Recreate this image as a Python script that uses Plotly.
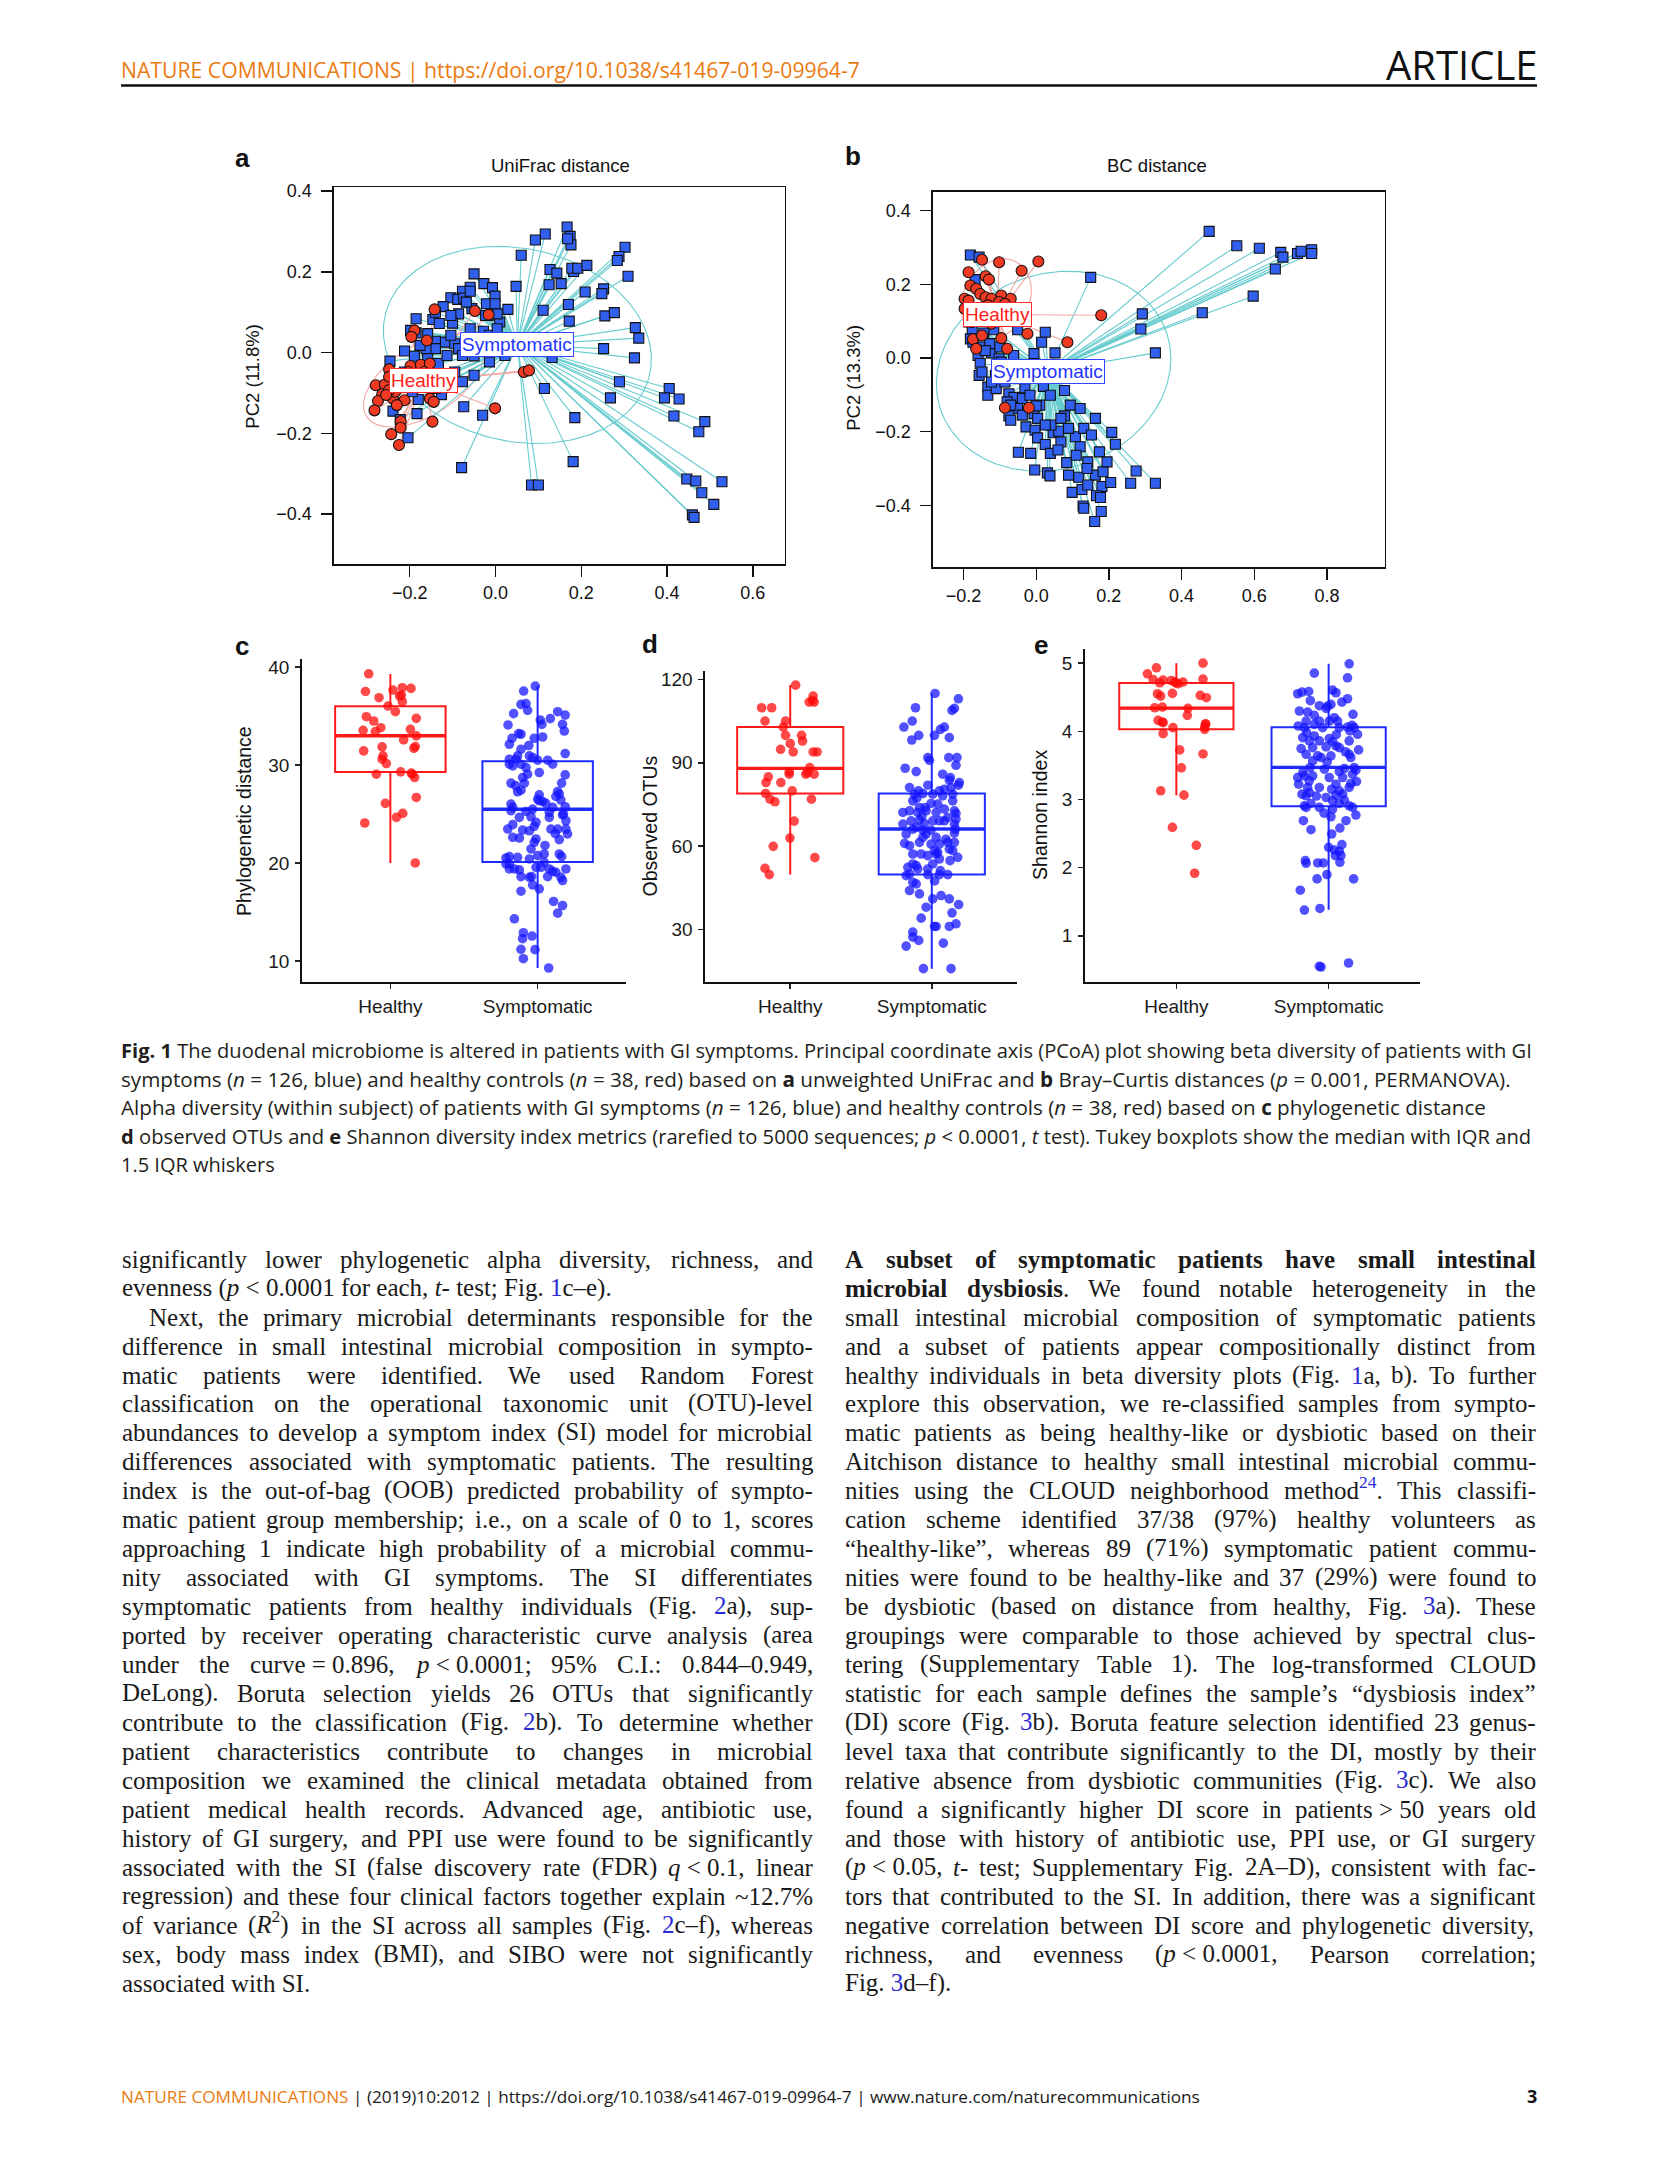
import re
import numpy as np
import plotly.graph_objects as go

W, H = 1654, 2174
Y_SHIFT = -3.0   # small global vertical correction (px)

# ---------------- data: panel a (UniFrac PCoA) ----------------
unifrac_sym_pc1 = [0.167,0.174,0.176,0.168,0.116,0.093,0.060,0.302,0.288,0.284,
    0.127,0.143,0.182,0.178,0.192,0.213,0.309,0.125,0.153,0.048,
    0.209,0.252,0.248,0.170,0.111,0.172,0.255,0.277,0.326,0.334,
    0.252,0.324,0.132,0.289,0.405,0.394,0.428,0.268,0.114,0.416,
    0.488,0.474,0.185,0.181,-0.079,0.084,0.100,0.446,0.467,0.481,
    0.509,0.528,0.459,0.463,-0.074,-0.030,
    -0.050,-0.027,-0.007,-0.059,-0.077,-0.104,-0.088,-0.074,-0.059,-0.001,
    -0.021,-0.001,0.029,0.010,0.004,-0.017,-0.086,-0.122,-0.146,-0.185,
    -0.100,-0.117,-0.140,-0.158,-0.185,-0.198,-0.095,-0.086,-0.140,-0.162,
    -0.212,-0.189,-0.246,-0.133,-0.050,-0.180,-0.126,-0.239,-0.183,-0.222,
    -0.204,-0.028,-0.014,
    -0.104,-0.068,-0.059,-0.113,-0.077,-0.032,-0.158,-0.176,-0.131,-0.050,
    -0.014,0.004,-0.122,-0.095,-0.149,-0.212,-0.194,-0.140,-0.077,-0.050,
    -0.014,0.022,-0.023,-0.055,-0.104,-0.068,-0.140]
unifrac_sym_pc2 = [0.311,0.288,0.267,0.282,0.294,0.279,0.241,0.261,0.238,0.228,
    0.206,0.197,0.201,0.209,0.209,0.216,0.189,0.168,0.171,0.164,
    0.150,0.158,0.146,0.119,0.105,0.078,0.091,0.099,0.062,0.036,
    0.010,-0.013,-0.012,-0.072,-0.089,-0.112,-0.115,-0.112,-0.089,-0.157,
    -0.171,-0.196,-0.161,-0.270,-0.285,-0.328,-0.328,-0.313,-0.318,-0.347,
    -0.376,-0.320,-0.402,-0.408,-0.134,-0.155,
    0.195,0.171,0.161,0.162,0.152,0.136,0.132,0.135,0.152,0.140,
    0.121,0.121,0.107,0.076,0.096,0.092,0.096,0.114,0.082,0.084,
    0.073,0.026,0.028,0.047,0.049,0.055,0.022,0.010,0.010,0.010,
    0.004,-0.009,-0.021,-0.027,-0.008,-0.116,-0.104,-0.145,-0.151,-0.166,
    -0.211,0.053,0.043,
    0.043,0.035,0.059,-0.007,-0.007,0.010,-0.015,0.018,0.072,0.026,
    0.018,0.059,-0.056,-0.048,-0.056,-0.048,-0.097,-0.089,-0.072,-0.056,
    -0.023,-0.007,0.092,0.109,0.092,0.125,0.100]
unifrac_hea_pc1 = [-0.142,-0.048,-0.016,-0.189,-0.196,-0.160,-0.248,-0.198,-0.174,-0.153,
    -0.279,-0.258,-0.264,-0.274,-0.239,-0.212,-0.153,-0.144,-0.282,-0.221,
    -0.221,-0.147,-0.243,-0.225,-0.001,0.066,0.078,-0.234,-0.248,-0.221,
    -0.194,-0.176,-0.248,-0.230,-0.255,-0.203,-0.167,-0.140]
unifrac_hea_pc2 = [0.107,0.103,0.094,0.055,0.039,0.030,-0.041,-0.033,-0.030,-0.027,
    -0.081,-0.079,-0.103,-0.120,-0.114,-0.118,-0.114,-0.122,-0.143,-0.170,
    -0.186,-0.171,-0.202,-0.229,-0.138,-0.048,-0.044,-0.097,-0.060,-0.085,
    -0.064,-0.081,-0.093,-0.130,-0.105,-0.048,-0.048,-0.072]
unifrac_centroid_sym = [0.051, 0.019]
unifrac_centroid_hea = [-0.168, -0.069]
# ellipse: centre x, centre y, semi-axis a, semi-axis b, angle (deg)
unifrac_ell_sym = [0.051, 0.019, 0.317, 0.238, -15]
unifrac_ell_hea = [-0.168, -0.069, 0.160, 0.085, 35]

# ---------------- data: panel b (Bray-Curtis PCoA) ----------------
bc_sym_pc1 = [0.476,0.552,0.614,0.673,0.679,0.719,0.729,0.758,0.758,0.658,
    0.597,0.457,0.292,0.288,0.328,0.150,-0.181,-0.157,-0.168,0.025,
    0.015,0.052,-0.006,-0.062,-0.051,-0.117,-0.144,-0.176,-0.181,-0.160,
    -0.123,-0.154,-0.157,-0.133,-0.133,-0.110,-0.075,-0.061,-0.031,0.020,
    0.039,0.078,-0.051,-0.006,-0.075,-0.070,0.078,-0.028,-0.003,0.004,
    0.047,0.062,0.108,0.121,0.025,0.039,-0.049,-0.015,0.084,-0.004,
    0.031,0.038,0.208,0.218,0.275,0.260,0.328,0.117,0.099,0.126,
    0.181,0.205,0.166,0.177,0.129,0.131,0.179,0.161,-0.038,-0.091,
    -0.102,-0.070,-0.017,0.057,-0.149,-0.128,-0.186,-0.170,-0.112,-0.080,
    -0.038,0.010,0.094,0.004,0.041,0.068,0.131,0.152,
    -0.174,-0.149,-0.123,-0.096,-0.086,-0.054,-0.017,-0.070,-0.038,0.025,
    0.089,0.068,0.110,0.142,0.163,0.142,0.184,0.089,0.174,0.195,
    0.121,0.163,0.015,-0.140,-0.100,0.000,0.060,0.140]
bc_sym_pc2 = [0.344,0.305,0.298,0.287,0.274,0.284,0.290,0.294,0.284,0.242,
    0.168,0.123,0.120,0.079,0.014,0.219,0.280,0.274,0.213,0.070,
    0.043,0.014,0.012,0.007,0.077,0.077,0.068,0.072,0.052,0.007,
    0.014,-0.015,-0.047,-0.079,-0.101,-0.083,-0.097,-0.107,-0.081,-0.077,
    -0.101,-0.088,-0.137,-0.151,-0.157,-0.169,-0.157,-0.187,-0.196,-0.217,
    -0.203,-0.199,-0.214,-0.241,-0.235,-0.259,-0.256,-0.259,-0.284,-0.304,
    -0.312,-0.320,-0.202,-0.234,-0.307,-0.340,-0.340,-0.324,-0.365,-0.357,
    -0.349,-0.338,-0.374,-0.379,-0.402,-0.408,-0.417,-0.444,-0.056,-0.047,
    -0.002,-0.029,-0.038,-0.047,0.030,0.039,0.098,0.116,-0.047,-0.119,
    -0.110,-0.128,-0.128,-0.164,-0.182,-0.164,-0.191,-0.209,
    0.043,-0.038,-0.065,-0.011,-0.065,-0.047,-0.101,-0.128,-0.155,-0.182,
    -0.191,-0.228,-0.264,-0.282,-0.318,-0.345,-0.309,-0.318,-0.255,-0.282,
    -0.137,-0.164,-0.020,0.020,0.030,-0.130,-0.250,-0.300]
bc_hea_pc1 = [-0.149,-0.102,0.006,-0.040,-0.186,-0.139,-0.130,-0.181,-0.165,-0.154,
    -0.139,-0.096,-0.070,-0.197,-0.186,-0.123,-0.102,-0.086,0.179,-0.024,
    0.086,-0.174,-0.165,-0.096,-0.080,-0.086,-0.020,-0.160,-0.133,-0.197,
    -0.176,-0.144,-0.112,-0.080,-0.059,-0.176,-0.123,-0.149]
bc_hea_pc2 = [0.267,0.260,0.262,0.237,0.233,0.222,0.213,0.197,0.188,0.174,
    0.165,0.170,0.161,0.161,0.156,0.161,0.152,0.147,0.116,0.066,
    0.043,0.051,0.025,0.054,0.025,-0.135,-0.135,0.134,0.143,0.134,
    0.125,0.116,0.107,0.116,0.134,0.098,0.093,0.061]
bc_centroid_sym = [0.033, -0.036]
bc_centroid_hea = [-0.106, 0.118]
bc_ell_sym = [0.048, -0.036, 0.328, 0.265, 18]
bc_ell_hea = [-0.110, 0.160, 0.115, 0.090, 60]

# ---------------- data: panels c-e (alpha diversity) ----------------
groups = ["Healthy", "Symptomatic"]

phylo_healthy = [39.32,37.52,36.88,37.66,37.90,37.83,37.15,36.47,36.03,35.45,34.94,34.50,34.77,
    33.55,33.82,33.42,33.65,32.98,32.57,31.45,31.86,31.89,31.72,30.94,30.60,30.16,29.07,29.31,
    29.18,28.73,26.70,26.09,25.07,24.66,24.09,20.01,37.05,29.07]
phylo_healthy_jit = [-0.147,-0.169,-0.077,0.018,0.081,0.140,0.075,0.081,-0.016,0.034,-0.163,-0.113,
    0.176,-0.185,-0.065,-0.102,0.136,0.176,0.090,-0.181,-0.056,0.169,0.160,-0.050,-0.056,-0.027,
    -0.095,0.070,0.142,0.165,0.176,-0.034,0.084,0.041,-0.174,0.169,0.063,0.149]
phylo_sym = [38.07,37.56,36.20,36.27,35.59,35.25,35.45,35.11,34.74,34.60,
    34.16,34.10,34.16,33.48,32.74,33.21,33.15,32.74,32.87,32.13,
    31.62,31.18,30.60,30.94,30.94,30.50,30.50,29.92,30.09,29.75,
    30.60,29.07,29.00,28.16,28.16,27.44,27.28,28.16,27.31,26.80,
    26.97,26.53,26.29,26.09,26.43,26.02,25.34,25.27,25.51,25.17,
    25.75,24.93,24.73,25.00,23.92,24.15,23.75,23.47,23.37,23.47,
    23.47,23.47,22.97,22.56,22.39,22.46,22.12,21.44,20.42,20.76,
    20.66,20.59,20.08,19.91,19.40,19.30,19.57,19.40,19.16,20.66,
    19.40,18.55,18.62,18.62,18.62,19.06,18.22,17.77,17.37,17.13,
    16.08,15.67,14.89,14.31,12.89,12.55,12.28,11.16,11.19,10.24,
    9.29,19.91,20.52,19.40,20.93,23.30,26.36,25.68,25.68,18.55,
    27.04,24.66,24.66,28.73,29.24,30.09,30.09,30.77,24.32,22.63,
    20.93,19.57,21.80,27.90,23.00,32.00]
phylo_sym_jit = [-0.016,-0.095,-0.113,-0.079,-0.068,-0.163,0.136,0.187,0.086,0.018,
    0.029,-0.201,0.169,0.181,-0.174,-0.129,-0.113,-0.023,0.034,-0.192,
    -0.113,0.187,-0.192,-0.136,-0.056,0.0,0.068,-0.169,-0.113,-0.079,
    -0.147,-0.068,0.187,-0.181,-0.090,-0.113,-0.136,0.163,0.136,0.124,
    0.011,0.0,0.034,0.056,0.158,-0.181,-0.181,-0.079,-0.034,0.079,
    0.187,0.169,-0.045,0.176,-0.169,-0.011,-0.023,-0.203,-0.102,0.090,
    0.136,0.192,0.203,-0.124,0.147,-0.011,-0.023,-0.045,-0.056,0.0,
    -0.192,-0.136,0.045,-0.192,-0.158,-0.124,0.023,0.079,0.102,0.163,
    0.192,0.158,-0.113,-0.041,0.068,0.124,0.169,-0.034,0.011,-0.113,
    0.108,0.169,0.136,-0.158,-0.097,-0.038,-0.102,-0.018,-0.113,-0.097,
    0.075,-0.215,-0.215,-0.192,0.147,-0.056,0.011,0.102,-0.169,-0.056,
    0.147,-0.124,0.079,-0.102,0.011,-0.192,0.102,-0.034,0.192,-0.169,
    0.045,-0.011,0.050,-0.150,0.120,-0.060]
phylo_q1 = [29.3, 20.1]
phylo_med = [33.0, 25.5]
phylo_q3 = [36.0, 30.4]
phylo_lo = [20.0, 9.3]
phylo_hi = [39.3, 38.1]

otu_healthy = [117.97,109.83,109.83,114.02,112.46,111.86,111.86,105.04,105.04,102.89,99.90,99.90,
    96.91,97.86,94.87,93.91,93.91,93.91,88.29,86.73,85.90,85.90,85.90,84.94,82.91,82.91,79.91,
    78.96,76.92,75.97,76.92,69.02,62.92,59.93,55.86,52.03,49.76,86.49]
otu_healthy_jit = [0.038,-0.202,-0.131,0.162,0.157,0.134,0.169,-0.178,-0.033,-0.049,-0.033,0.080,
    0.0,0.087,-0.068,0.021,0.162,0.190,0.138,-0.007,-0.007,0.110,0.169,-0.155,-0.171,-0.066,0.014,
    -0.174,-0.143,-0.108,0.150,0.028,-0.002,-0.120,0.174,-0.178,-0.148,0.122]
otu_sym = [114.97,113.06,109.83,109.59,108.87,105.04,102.89,102.89,102.05,99.90,
    99.90,98.22,99.06,91.88,90.92,91.88,91.88,89.13,88.05,86.85,
    85.90,84.70,83.74,82.91,81.95,81.11,81.95,79.91,78.72,78.96,
    79.91,78.12,78.72,76.32,77.28,75.37,75.13,73.93,73.33,72.73,
    71.78,72.14,72.73,72.14,72.73,72.14,70.34,69.74,69.14,69.14,
    69.38,68.19,66.15,66.75,65.79,67.95,66.15,65.79,64.36,64.36,
    64.72,61.37,60.77,60.77,61.37,61.37,61.01,60.17,58.38,57.78,
    58.97,55.98,56.58,57.18,52.99,51.79,55.38,54.79,51.20,49.76,
    49.76,49.40,50.00,49.76,51.79,47.01,46.41,44.02,42.82,42.22,
    41.02,41.02,38.99,38.03,36.00,34.08,32.05,31.09,31.09,31.09,
    29.06,27.26,26.07,24.03,25.11,15.90,15.90,57.18,57.18,58.38,
    63.16,67.95,69.14,69.14,53.59,53.59,52.39,63.16,73.93,78.72,
    81.11,80.51,76.32,62.50,70.80,47.50]
otu_sym_jit = [0.023,0.188,-0.115,0.160,0.143,-0.138,-0.197,0.089,0.061,0.019,
    -0.092,-0.141,0.124,-0.028,-0.016,0.120,0.178,0.171,-0.188,-0.110,
    0.077,0.131,0.124,0.195,0.188,0.136,-0.028,-0.094,-0.122,-0.063,
    0.054,0.077,0.007,-0.134,-0.106,-0.005,0.042,-0.047,0.089,0.160,
    0.171,-0.204,-0.157,-0.099,-0.040,0.031,0.113,0.171,0.054,-0.146,
    -0.087,-0.052,-0.134,-0.110,-0.063,0.160,0.167,-0.005,-0.181,-0.040,
    0.160,-0.087,-0.005,0.054,0.113,0.160,-0.192,-0.157,0.019,0.042,
    0.124,0.183,-0.028,-0.075,-0.110,-0.099,0.054,0.129,0.061,0.054,
    0.113,-0.181,-0.157,-0.028,-0.028,-0.134,-0.110,-0.157,-0.087,0.066,
    0.124,0.007,0.190,-0.040,0.143,-0.075,0.171,0.019,0.031,0.124,
    -0.134,-0.134,-0.092,-0.181,0.082,-0.059,0.136,0.031,-0.134,0.148,
    -0.063,-0.204,0.007,0.089,-0.134,0.007,-0.169,0.031,-0.087,0.148,
    -0.157,0.089,0.148,0.100,-0.070,0.020]
otu_q1 = [79.0, 49.8]
otu_med = [88.0, 66.2]
otu_q3 = [102.9, 79.0]
otu_lo = [49.8, 15.9]
otu_hi = [118.0, 115.0]

shan_healthy = [5.000,4.932,4.844,4.761,4.751,4.746,4.712,4.722,4.766,4.722,4.551,4.517,4.556,
    4.527,4.493,4.346,4.356,4.337,4.234,4.161,4.137,4.127,4.112,4.063,4.029,4.054,3.966,3.727,
    3.668,3.463,3.127,3.063,2.590,2.327,1.917,4.712,4.698,4.102]
shan_healthy_jit = [0.175,-0.131,-0.190,-0.153,-0.087,-0.033,0.0,0.044,0.175,-0.011,-0.124,-0.103,
    -0.026,0.157,0.197,-0.142,-0.092,0.076,0.072,-0.120,-0.092,-0.087,0.192,0.186,0.186,-0.022,
    -0.087,0.022,0.175,0.033,-0.103,0.050,-0.026,0.131,0.120,-0.109,0.011,0.192]
shan_sym = [4.990,4.854,4.785,4.551,4.576,4.585,4.605,4.566,4.429,4.478,
    4.376,4.371,4.395,4.337,4.298,4.283,4.234,4.200,4.078,4.054,
    4.102,4.054,4.054,4.063,4.088,4.054,4.005,3.980,3.932,3.956,
    3.893,3.849,3.785,3.761,3.771,3.746,3.761,3.727,3.663,3.639,
    3.615,3.639,3.663,3.615,3.395,3.468,3.346,3.444,3.410,3.454,
    3.468,3.429,3.224,3.322,3.346,3.176,3.054,3.078,3.102,3.234,
    3.263,3.176,3.029,3.063,3.127,3.078,2.980,2.941,2.990,2.907,
    2.883,2.941,2.859,2.907,2.746,2.771,2.688,2.556,2.580,2.493,
    2.298,2.337,2.259,2.239,2.176,2.176,2.102,2.063,2.068,2.068,
    2.078,1.898,1.834,1.834,1.668,1.376,1.400,0.541,0.600,0.551,
    4.151,4.151,4.151,4.151,3.907,3.859,3.859,3.322,3.566,3.273,
    3.322,3.224,3.176,2.688,2.883,2.883,3.859,3.371,
    3.55,3.95,4.25,3.05,2.80,3.70,4.45,3.15]
shan_sym_jit = [0.135,-0.094,0.124,-0.203,-0.175,-0.131,0.026,0.048,0.087,0.124,
    -0.061,-0.007,0.015,-0.017,-0.192,-0.138,-0.094,0.037,-0.199,-0.159,
    -0.094,-0.039,0.070,0.124,0.153,0.168,0.140,-0.144,-0.094,0.190,
    0.004,0.026,0.048,0.070,-0.017,-0.181,-0.105,0.197,-0.148,-0.072,
    -0.050,0.015,0.135,0.146,-0.170,-0.122,-0.105,-0.028,0.070,0.103,
    0.168,0.179,-0.197,-0.203,-0.159,-0.138,-0.148,-0.175,-0.127,0.146,
    0.183,0.135,-0.017,0.048,0.070,0.092,0.026,0.070,0.103,-0.159,
    -0.148,-0.116,0.026,0.135,0.015,0.179,-0.166,-0.116,0.074,0.020,
    0.0,0.087,0.037,0.070,0.081,0.044,-0.153,-0.148,-0.072,-0.035,
    0.074,-0.011,-0.076,0.164,-0.186,-0.159,-0.057,-0.050,0.131,-0.061,
    -0.148,-0.061,0.004,0.059,-0.170,-0.061,0.135,0.092,-0.105,-0.127,
    0.004,0.048,-0.061,0.114,-0.061,0.157,-0.127,0.157,
    -0.010,0.050,0.160,-0.080,-0.030,0.110,-0.120,0.020]
shan_q1 = [4.03, 2.90]
shan_med = [4.34, 3.47]
shan_q3 = [4.71, 4.06]
shan_lo = [3.06, 1.38]
shan_hi = [5.00, 4.99]

# ---------------- text ----------------
LINK = "#2a2ad6"
def L(s):
    return "<span style='color:%s'>%s</span>" % (LINK, s)

caption_lines = [
    "<b>Fig. 1</b> The duodenal microbiome is altered in patients with GI symptoms. Principal coordinate axis (PCoA) plot showing beta diversity of patients with GI",
    "symptoms (<i>n</i> = 126, blue) and healthy controls (<i>n</i> = 38, red) based on <b>a</b> unweighted UniFrac and <b>b</b> Bray–Curtis distances (<i>p</i> = 0.001, PERMANOVA).",
    "Alpha diversity (within subject) of patients with GI symptoms (<i>n</i> = 126, blue) and healthy controls (<i>n</i> = 38, red) based on <b>c</b> phylogenetic distance",
    "<b>d</b> observed OTUs and <b>e</b> Shannon diversity index metrics (rarefied to 5000 sequences; <i>p</i> &lt; 0.0001, <i>t</i> test). Tukey boxplots show the median with IQR and",
    "1.5 IQR whiskers",
]
caption_sizes = [20.1, 20.65, 20.65, 20.2, 20.0]

NB = "\u00a0"
col1_lines = [
    ("significantly lower phylogenetic alpha diversity, richness, and", 1, 0),
    ("evenness (<i>p</i>" + NB + "&lt;" + NB + "0.0001 for each, <i>t</i>- test; Fig. " + L("1") + "c–e).", 0, 0),
    ("Next, the primary microbial determinants responsible for the", 1, 1),
    ("difference in small intestinal microbial composition in sympto-", 1, 0),
    ("matic patients were identified. We used Random Forest", 1, 0),
    ("classification on the operational taxonomic unit (OTU)-level", 1, 0),
    ("abundances to develop a symptom index (SI) model for microbial", 1, 0),
    ("differences associated with symptomatic patients. The resulting", 1, 0),
    ("index is the out-of-bag (OOB) predicted probability of sympto-", 1, 0),
    ("matic patient group membership; i.e., on a scale of 0 to 1, scores", 1, 0),
    ("approaching 1 indicate high probability of a microbial commu-", 1, 0),
    ("nity associated with GI symptoms. The SI differentiates", 1, 0),
    ("symptomatic patients from healthy individuals (Fig. " + L("2") + "a), sup-", 1, 0),
    ("ported by receiver operating characteristic curve analysis (area", 1, 0),
    ("under the curve" + NB + "=" + NB + "0.896, <i>p</i>" + NB + "&lt;" + NB + "0.0001; 95% C.I.: 0.844–0.949,", 1, 0),
    ("DeLong). Boruta selection yields 26 OTUs that significantly", 1, 0),
    ("contribute to the classification (Fig. " + L("2") + "b). To determine whether", 1, 0),
    ("patient characteristics contribute to changes in microbial", 1, 0),
    ("composition we examined the clinical metadata obtained from", 1, 0),
    ("patient medical health records. Advanced age, antibiotic use,", 1, 0),
    ("history of GI surgery, and PPI use were found to be significantly", 1, 0),
    ("associated with the SI (false discovery rate (FDR) <i>q</i>" + NB + "&lt;" + NB + "0.1, linear", 1, 0),
    ("regression) and these four clinical factors together explain ~12.7%", 1, 0),
    ("of variance (<i>R</i><sup>2</sup>) in the SI across all samples (Fig. " + L("2") + "c–f), whereas", 1, 0),
    ("sex, body mass index (BMI), and SIBO were not significantly", 1, 0),
    ("associated with SI.", 0, 0),
]
head_words = "A subset of symptomatic patients have small intestinal".split()
col2_lines = [
    (" ".join("<b>%s</b>" % w for w in head_words), 1, 0),
    ("<b>microbial</b> <b>dysbiosis</b>. We found notable heterogeneity in the", 1, 0),
    ("small intestinal microbial composition of symptomatic patients", 1, 0),
    ("and a subset of patients appear compositionally distinct from", 1, 0),
    ("healthy individuals in beta diversity plots (Fig. " + L("1") + "a, b). To further", 1, 0),
    ("explore this observation, we re-classified samples from sympto-", 1, 0),
    ("matic patients as being healthy-like or dysbiotic based on their", 1, 0),
    ("Aitchison distance to healthy small intestinal microbial commu-", 1, 0),
    ("nities using the CLOUD neighborhood method<span style='color:%s'><sup>24</sup></span>. This classifi-" % LINK, 1, 0),
    ("cation scheme identified 37/38 (97%) healthy volunteers as", 1, 0),
    ("“healthy-like”, whereas 89 (71%) symptomatic patient commu-", 1, 0),
    ("nities were found to be healthy-like and 37 (29%) were found to", 1, 0),
    ("be dysbiotic (based on distance from healthy, Fig. " + L("3") + "a). These", 1, 0),
    ("groupings were comparable to those achieved by spectral clus-", 1, 0),
    ("tering (Supplementary Table 1). The log-transformed CLOUD", 1, 0),
    ("statistic for each sample defines the sample’s “dysbiosis index”", 1, 0),
    ("(DI) score (Fig. " + L("3") + "b). Boruta feature selection identified 23 genus-", 1, 0),
    ("level taxa that contribute significantly to the DI, mostly by their", 1, 0),
    ("relative absence from dysbiotic communities (Fig. " + L("3") + "c). We also", 1, 0),
    ("found a significantly higher DI score in patients" + NB + "&gt;" + NB + "50 years old", 1, 0),
    ("and those with history of antibiotic use, PPI use, or GI surgery", 1, 0),
    ("(<i>p</i>" + NB + "&lt;" + NB + "0.05, <i>t</i>- test; Supplementary Fig. 2A–D), consistent with fac-", 1, 0),
    ("tors that contributed to the SI. In addition, there was a significant", 1, 0),
    ("negative correlation between DI score and phylogenetic diversity,", 1, 0),
    ("richness, and evenness (<i>p</i>" + NB + "&lt;" + NB + "0.0001, Pearson correlation;", 1, 0),
    ("Fig. " + L("3") + "d–f).", 0, 0),
]

# ---------------- helpers ----------------
def PX(x):
    return x / W

def PY(y):
    return 1 - (y + Y_SHIFT) / H

SANS = "Liberation Sans, Arial, Helvetica, sans-serif"
SERIF = "Liberation Serif, Times New Roman, serif"
CAP = "Open Sans, Noto Sans, sans-serif"

RED_PT = "#ee3a22"
BLUE_PT = "#3160ee"
CYAN = "#68cccf"
PINK = "#f4a7a3"
RED_BOX = "#ff1a1a"
BLUE_BOX = "#1f2cff"

fig = go.Figure()
annotations = []
shapes = []

def ellipse(p, n=240):
    cx, cy, a, b, ang = p
    t = np.linspace(0, 2 * np.pi, n)
    th = np.deg2rad(ang)
    x = cx + a * np.cos(t) * np.cos(th) - b * np.sin(t) * np.sin(th)
    y = cy + a * np.cos(t) * np.sin(th) + b * np.sin(t) * np.cos(th)
    return x, y

def spider(xs, ys, c):
    sx, sy = [], []
    for x, y in zip(xs, ys):
        sx += [c[0], x, None]
        sy += [c[1], y, None]
    return sx, sy

def pcoa_panel(xa, ya, sx, sy, hx, hy, csym, chea, esym, ehea):
    n1 = min(len(sx), len(sy)); n2 = min(len(hx), len(hy))
    sx, sy, hx, hy = sx[:n1], sy[:n1], hx[:n2], hy[:n2]
    ex, ey = ellipse(esym)
    fig.add_trace(go.Scatter(x=ex, y=ey, mode="lines", line=dict(color=CYAN, width=1.1),
                             xaxis=xa, yaxis=ya, hoverinfo="skip"))
    ex, ey = ellipse(ehea)
    fig.add_trace(go.Scatter(x=ex, y=ey, mode="lines", line=dict(color=PINK, width=1.1),
                             xaxis=xa, yaxis=ya, hoverinfo="skip"))
    a, b = spider(sx, sy, csym)
    fig.add_trace(go.Scatter(x=a, y=b, mode="lines", line=dict(color=CYAN, width=1.1),
                             xaxis=xa, yaxis=ya, hoverinfo="skip"))
    a, b = spider(hx, hy, chea)
    fig.add_trace(go.Scatter(x=a, y=b, mode="lines", line=dict(color=PINK, width=1.1),
                             xaxis=xa, yaxis=ya, hoverinfo="skip"))
    fig.add_trace(go.Scatter(x=sx, y=sy, mode="markers",
                             marker=dict(symbol="square", size=10, color=BLUE_PT,
                                         line=dict(color="#111111", width=1.1)),
                             xaxis=xa, yaxis=ya, hoverinfo="skip"))
    fig.add_trace(go.Scatter(x=hx, y=hy, mode="markers",
                             marker=dict(symbol="circle", size=11, color=RED_PT,
                                         line=dict(color="#111111", width=1.1)),
                             xaxis=xa, yaxis=ya, hoverinfo="skip"))
    annotations.append(dict(x=csym[0], y=csym[1], xref=xa, yref=ya, text="Symptomatic",
                            showarrow=False, font=dict(family=SANS, size=19, color="#2233ff"),
                            bgcolor="white", bordercolor="#3344ff", borderwidth=1, borderpad=1))
    annotations.append(dict(x=chea[0], y=chea[1], xref=xa, yref=ya, text="Healthy",
                            showarrow=False, font=dict(family=SANS, size=19, color="#ff2020"),
                            bgcolor="white", bordercolor="#ff2a2a", borderwidth=1, borderpad=1))

pcoa_panel("x", "y", unifrac_sym_pc1, unifrac_sym_pc2, unifrac_hea_pc1, unifrac_hea_pc2,
           unifrac_centroid_sym, unifrac_centroid_hea, unifrac_ell_sym, unifrac_ell_hea)
pcoa_panel("x2", "y2", bc_sym_pc1, bc_sym_pc2, bc_hea_pc1, bc_hea_pc2,
           bc_centroid_sym, bc_centroid_hea, bc_ell_sym, bc_ell_hea)

def box_panel(xa, ya, hv, hj, sv, sj, q1, med, q3, lo, hi):
    cols = [RED_BOX, BLUE_BOX]
    for i in range(2):
        fig.add_trace(go.Box(x=[i + 1], q1=[q1[i]], median=[med[i]], q3=[q3[i]],
                             lowerfence=[lo[i]], upperfence=[hi[i]], width=0.75,
                             whiskerwidth=0, boxpoints=False, fillcolor="rgba(0,0,0,0)",
                             line=dict(color=cols[i], width=2.0), xaxis=xa, yaxis=ya,
                             hoverinfo="skip"))
        fig.add_trace(go.Scatter(x=[i + 1 - 0.375, i + 1 + 0.375], y=[med[i], med[i]],
                                 mode="lines", line=dict(color=cols[i], width=3.4),
                                 xaxis=xa, yaxis=ya, hoverinfo="skip"))
    n = min(len(hv), len(hj))
    fig.add_trace(go.Scatter(x=[1 + d for d in hj[:n]], y=hv[:n], mode="markers",
                             marker=dict(size=9.6, color="rgba(255,10,10,0.74)"),
                             xaxis=xa, yaxis=ya, hoverinfo="skip"))
    n = min(len(sv), len(sj))
    fig.add_trace(go.Scatter(x=[2 + d for d in sj[:n]], y=sv[:n], mode="markers",
                             marker=dict(size=9.6, color="rgba(20,20,255,0.74)"),
                             xaxis=xa, yaxis=ya, hoverinfo="skip"))

box_panel("x3", "y3", phylo_healthy, phylo_healthy_jit, phylo_sym, phylo_sym_jit,
          phylo_q1, phylo_med, phylo_q3, phylo_lo, phylo_hi)
box_panel("x4", "y4", otu_healthy, otu_healthy_jit, otu_sym, otu_sym_jit,
          otu_q1, otu_med, otu_q3, otu_lo, otu_hi)
box_panel("x5", "y5", shan_healthy, shan_healthy_jit, shan_sym, shan_sym_jit,
          shan_q1, shan_med, shan_q3, shan_lo, shan_hi)

# ---------------- axes ----------------
def r_axis(dom, rng, vals, txt, standoff):
    return dict(domain=dom, range=rng, tickvals=vals, ticktext=txt, showline=True, mirror=True,
                linecolor="#111111", linewidth=1.8, ticks="outside", ticklen=11, tickwidth=1.3,
                tickcolor="#111111", showgrid=False, zeroline=False, ticklabelstandoff=standoff,
                tickfont=dict(family=SANS, size=18, color="#111111"), fixedrange=True)

def gg_axis(dom, rng, vals, txt, standoff, size=19):
    return dict(domain=dom, range=rng, tickvals=vals, ticktext=txt, showline=True, mirror=False,
                linecolor="#111111", linewidth=1.9, ticks="outside", ticklen=5, tickwidth=1.6,
                tickcolor="#222222", showgrid=False, zeroline=False, ticklabelstandoff=standoff,
                tickfont=dict(family=SANS, size=size, color="#1a1a1a"), fixedrange=True)

ta = [-0.2, 0.0, 0.2, 0.4, 0.6]
tb = [-0.2, 0.0, 0.2, 0.4, 0.6, 0.8]
ty = [-0.4, -0.2, 0.0, 0.2, 0.4]
fmt = lambda v: ("\u2212%.1f" % abs(v)) if v < 0 else "%.1f" % v

layout = dict(
    width=W, height=H, margin=dict(l=0, r=0, t=0, b=0), paper_bgcolor="white",
    plot_bgcolor="rgba(0,0,0,0)", showlegend=False, hovermode=False,
    xaxis=r_axis([PX(334.2), PX(784.6)], [-0.376, 0.674], ta, [fmt(v) for v in ta], 0),
    yaxis=r_axis([PY(562.7), PY(185.0)], [-0.524, 0.409], ty, [fmt(v) for v in ty], 6),
    xaxis2=r_axis([PX(933.1), PX(1384.6)], [-0.2836, 0.9587], tb, [fmt(v) for v in tb], 0),
    yaxis2=r_axis([PY(566.0), PY(189.3)], [-0.5688, 0.4515], ty, [fmt(v) for v in ty], 6),
    xaxis3=gg_axis([PX(302), PX(626)], [0.4, 2.6], [1, 2], groups, 1),
    yaxis3=gg_axis([PY(981.7), PY(658.3)], [7.86, 40.78], [10, 20, 30, 40], ["10", "20", "30", "40"], 2),
    xaxis4=gg_axis([PX(705.3), PX(1016.7)], [0.4, 2.6], [1, 2], groups, 1),
    yaxis4=gg_axis([PY(981.7), PY(670.0)], [11.1, 123.0], [30, 60, 90, 120], ["30", "60", "90", "120"], 2),
    xaxis5=gg_axis([PX(1085), PX(1420)], [0.4, 2.6], [1, 2], groups, 1),
    yaxis5=gg_axis([PY(981.7), PY(647.3)], [0.321, 5.215], [1, 2, 3, 4, 5], ["1", "2", "3", "4", "5"], 2),
)
for i in (2, 3, 4, 5):
    layout["xaxis%d" % i]["anchor"] = "y%d" % i
    layout["yaxis%d" % i]["anchor"] = "x%d" % i

def ann(x, y, text, size, family=SANS, color="#111111", xanchor="center", angle=0, yanchor="middle"):
    annotations.append(dict(x=PX(x), y=PY(y), xref="paper", yref="paper", text=text,
                            showarrow=False, xanchor=xanchor, yanchor=yanchor, textangle=angle,
                            font=dict(family=family, size=size, color=color),
                            borderpad=0, borderwidth=0))

# panel titles, letters, axis titles
ann(560.4, 163.3, "UniFrac distance", 18.5)
ann(1157.0, 163.3, "BC distance", 18.5)
ann(243, 155, "<b>a</b>", 26)
ann(853, 153, "<b>b</b>", 26)
ann(252.7, 374, "PC2 (11.8%)", 18.5, angle=-90)
ann(853.8, 376, "PC2 (13.3%)", 18.5, angle=-90)
ann(242, 645, "<b>c</b>", 26)
ann(650, 643, "<b>d</b>", 26)
ann(1041, 644, "<b>e</b>", 26)
ann(243.3, 820, "Phylogenetic distance", 19.5, angle=-90)
ann(650, 825.8, "Observed OTUs", 19.5, angle=-90)
ann(1040.7, 814.5, "Shannon index", 19.5, angle=-90)

# header / footer
ORANGE = "#ea7b12"
ann(121, 66.7, "NATURE COMMUNICATIONS | https://doi.org/10.1038/s41467-019-09964-7", 21.2,
    family=CAP, color=ORANGE, xanchor="left")
ann(1537, 62, "ARTICLE", 40, family=CAP, color="#111111", xanchor="right")
shapes.append(dict(type="line", xref="paper", yref="paper", x0=PX(121), x1=PX(1537),
                   y0=PY(82.7), y1=PY(82.7), line=dict(color="#111111", width=2.6)))
ann(121, 2099, "<span style='color:%s'>NATURE COMMUNICATIONS</span> | (2019)10:2012 | https://doi.org/10.1038/s41467-019-09964-7 | www.nature.com/naturecommunications" % ORANGE,
    17.2, family=CAP, color="#1a1a1a", xanchor="left")
ann(1537, 2099, "<b>3</b>", 18, family=CAP, color="#111111", xanchor="right")

# caption
cap_y = [1050.0, 1078.6, 1107.3, 1136.0, 1164.8]
for t, y, s in zip(caption_lines, cap_y, caption_sizes):
    ann(121, y, t, s, family=CAP, color="#231f20", xanchor="left")

# ---------------- justified body text ----------------
TIMES = {' ': 250, '!': 333, '"': 408, '#': 500, '$': 500, '%': 833, '&': 778, "'": 180,
         '(': 333, ')': 333, '*': 500, '+': 564, ',': 250, '-': 333, '.': 250, '/': 278,
         ':': 278, ';': 278, '<': 564, '=': 564, '>': 564, '?': 444, '@': 921,
         'A': 722, 'B': 667, 'C': 667, 'D': 722, 'E': 611, 'F': 556, 'G': 722, 'H': 722,
         'I': 333, 'J': 389, 'K': 722, 'L': 611, 'M': 889, 'N': 722, 'O': 722, 'P': 556,
         'Q': 722, 'R': 667, 'S': 556, 'T': 611, 'U': 722, 'V': 722, 'W': 944, 'X': 722,
         'Y': 722, 'Z': 611, 'a': 444, 'b': 500, 'c': 444, 'd': 500, 'e': 444, 'f': 333,
         'g': 500, 'h': 500, 'i': 278, 'j': 278, 'k': 500, 'l': 278, 'm': 778, 'n': 500,
         'o': 500, 'p': 500, 'q': 500, 'r': 333, 's': 389, 't': 278, 'u': 500, 'v': 500,
         'w': 722, 'x': 500, 'y': 500, 'z': 444, '~': 541, '\u2013': 500, '\u2014': 1000,
         '\u201c': 444, '\u201d': 444, '\u2019': 333, '\u2018': 333, '\u00a0': 250}
for d in "0123456789":
    TIMES[d] = 500
TIMES_B = dict(TIMES)
TIMES_B.update({'a': 500, 'b': 556, 'c': 444, 'd': 556, 'e': 444, 'f': 333, 'g': 500, 'h': 556,
                'i': 278, 'l': 278, 'm': 833, 'n': 556, 'o': 500, 'p': 556, 'r': 444, 's': 389,
                't': 333, 'u': 556, 'v': 500, 'y': 500, 'A': 722})

FS = 25.0
HALF_BOX = 0.5535 * FS

def tw(markup):
    bold = False; sup = False; w = 0.0
    for tok in re.split(r'(<[^>]+>)', markup):
        if tok.startswith('<'):
            t = tok.lower()
            if t.startswith('<b>') or t.startswith('<b '):
                bold = True
            elif t.startswith('</b'):
                bold = False
            elif t.startswith('<sup'):
                sup = True
            elif t.startswith('</sup'):
                sup = False
            continue
        tok = tok.replace('&lt;', '<').replace('&gt;', '>').replace('&amp;', '&')
        tab = TIMES_B if bold else TIMES
        for ch in tok:
            w += tab.get(ch, 500) * (0.7 if sup else 1.0)
    return w * FS / 1000.0

def body(lines, x0, x1, y0, dy, indent_px=27):
    for k, (line, just, ind) in enumerate(lines):
        y = y0 + k * dy + HALF_BOX
        left = x0 + (indent_px if ind else 0)
        if not just:
            ann(left, y, line, FS, family=SERIF, color="#1a1a1a", xanchor="left", yanchor="bottom")
            continue
        words = re.findall(r'(?:<[^>]*>|[^ <])+', line)
        ws = [tw(w) for w in words]
        gap = (x1 - left - sum(ws)) / max(1, len(words) - 1)
        gap = max(gap, 0.12 * FS)
        x = left
        for w, wd in zip(words, ws):
            ann(x, y, w, FS, family=SERIF, color="#1a1a1a", xanchor="left", yanchor="bottom")
            x += wd + gap

body(col1_lines, 122.0, 813.0, 1259.3, 29.05)
body(col2_lines, 845.0, 1536.0, 1259.3, 29.05)

layout["annotations"] = annotations
layout["shapes"] = shapes
fig.update_layout(**layout)
fig.write_html("out.html", config={"displayModeBar": False, "staticPlot": True},
               post_script="document.body.style.margin='0px';document.body.style.padding='0px';")
